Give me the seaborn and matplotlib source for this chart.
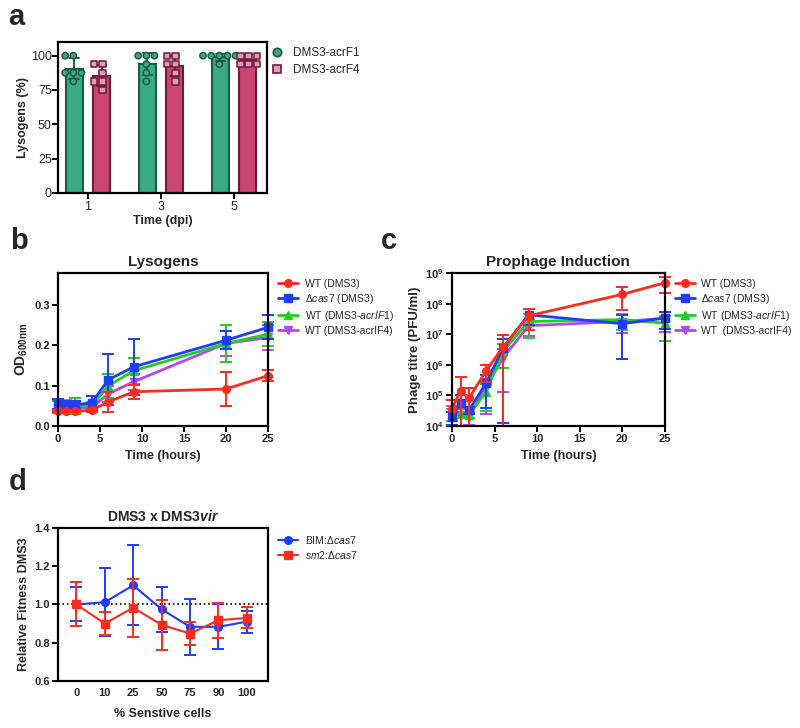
import numpy as np
import pandas as pd
import matplotlib
matplotlib.use('Agg')
import matplotlib.pyplot as plt
from matplotlib.lines import Line2D
from matplotlib.patches import Rectangle
from matplotlib.ticker import NullLocator
import seaborn as sns

# ---- a: lysogens (%) per replicate, days 1 / 3 / 5 ----
days = ['1', '3', '5']
acrF1_day1 = [100, 100, 87.5, 87.5, 87.5, 81.25]
acrF1_day3 = [100, 100, 100, 93.75, 87.5, 81.25]
acrF1_day5 = [100, 100, 100, 100, 100, 93.75]
acrF4_day1 = [93.75, 93.75, 87.5, 81.25, 81.25, 75]
acrF4_day3 = [100, 100, 93.75, 93.75, 87.5, 81.25]
acrF4_day5 = [100, 100, 100, 93.75, 93.75, 93.75]

# ---- b: OD600 of lysogens ----
time_h = [0, 1, 2, 4, 6, 9, 20, 25]
od_wt = [0.038, 0.037, 0.037, 0.039, 0.060, 0.085, 0.092, 0.125]
od_wt_sd = [0.003, 0.003, 0.003, 0.003, 0.025, 0.017, 0.042, 0.014]
od_cas7 = [0.055, 0.053, 0.053, 0.057, 0.115, 0.147, 0.213, 0.245]
od_cas7_sd = [0.012, 0.010, 0.010, 0.018, 0.063, 0.070, 0.022, 0.030]
od_f1 = [0.050, 0.050, 0.050, 0.050, 0.100, 0.137, 0.205, 0.228]
od_f1_sd = [0.012, 0.015, 0.020, 0.010, 0.030, 0.033, 0.047, 0.030]
od_f4 = [0.047, 0.047, 0.046, 0.046, 0.080, 0.110, 0.205, 0.220]
od_f4_sd = [0.015, 0.012, 0.010, 0.008, 0.020, 0.020, 0.030, 0.030]

# ---- c: prophage induction, PFU/ml ----
pfu_wt = [3.7e4, 1.4e5, 8.0e4, 6.4e5, 3.8e6, 4.0e7, 2.0e8, 4.8e8]
pfu_wt_sd = [3.2e4, 2.5e5, 9.0e4, 3.6e5, 5.5e6, 2.6e7, 1.4e8, 2.6e8]
pfu_cas7 = [2.0e4, 5.6e4, 3.3e4, 2.5e5, 3.6e6, 4.3e7, 2.2e7, 3.4e7]
pfu_cas7_sd = [0.9e4, 5.0e4, 0.8e4, 2.1e5, 3.587e6, 2.3e7, 2.05e7, 1.9e7]
pfu_f1 = [2.5e4, 2.5e4, 2.3e4, 1.3e5, 2.8e6, 2.6e7, 3.0e7, 2.3e7]
pfu_f1_sd = [1.0e4, 1.6e4, 0.5e4, 1.0e5, 2.0e6, 1.85e7, 1.6e7, 1.7e7]
pfu_f4 = [2.5e4, 2.3e4, 2.0e4, 1.9e5, 1.7e6, 1.9e7, 2.6e7, 3.3e7]
pfu_f4_sd = [2.0e4, 1.3e4, 0.9e4, 1.65e5, 1.57e6, 1.0e7, 1.5e7, 2.1e7]

# ---- d: relative fitness ----
pct_sens = ['0', '10', '25', '50', '75', '90', '100']
fit_bim = [1.000, 1.012, 1.100, 0.975, 0.883, 0.883, 0.910]
fit_bim_sd = [0.089, 0.178, 0.210, 0.117, 0.146, 0.118, 0.058]
fit_sm2 = [1.000, 0.900, 0.983, 0.893, 0.848, 0.917, 0.930]
fit_sm2_sd = [0.115, 0.060, 0.152, 0.130, 0.060, 0.090, 0.055]

RED, BLUE, GREEN, PURPLE = '#ff2b1c', '#1f3dff', '#22cc22', '#b447f2'
TEAL, TEAL_D = '#3aaa85', '#1b5a45'
PINK, PINK_D, PINK_L = '#c9466f', '#6e1c3b', '#e39ab4'

sns.set_style('ticks')
plt.rcParams['font.family'] = ['Liberation Sans', 'DejaVu Sans']
plt.rcParams['mathtext.fontset'] = 'custom'
plt.rcParams['mathtext.rm'] = 'Liberation Sans'
plt.rcParams['mathtext.it'] = 'Liberation Sans:italic'
plt.rcParams['mathtext.bf'] = 'Liberation Sans:bold'
plt.rcParams['mathtext.bfit'] = 'Liberation Sans:bold:italic'

fig = plt.figure(figsize=(8, 7.28), dpi=100)
ax_a = fig.add_axes([0.0725, 0.735, 0.261, 0.2074])
ax_b = fig.add_axes([0.0725, 0.4148, 0.2625, 0.2102])
ax_c = fig.add_axes([0.565, 0.4148, 0.266, 0.2102])
ax_d = fig.add_axes([0.0725, 0.0646, 0.2625, 0.2102])


def frame(ax, bold=True):
    for s in ax.spines.values():
        s.set_visible(True)
        s.set_linewidth(1.6)
        s.set_color('black')
    ax.tick_params(width=1.4, length=4, labelsize=8, color='black', pad=2)
    if bold:
        for lab in ax.get_xticklabels() + ax.get_yticklabels():
            lab.set_fontweight('bold')


def err_clip(ax, cont):
    # let caps at x=0 / x=25 spill over the spines, like the original
    rect = Rectangle((-0.05, 0), 1.1, 1, transform=ax.transAxes, visible=False)
    ax.add_patch(rect)
    for art in cont.get_children():
        art.set_clip_path(rect)


# ---------------- a ----------------
rows = []
for strain, vals in [('DMS3-acrF1', [acrF1_day1, acrF1_day3, acrF1_day5]),
                     ('DMS3-acrF4', [acrF4_day1, acrF4_day3, acrF4_day5])]:
    for d, v in zip(days, vals):
        for p in v:
            rows.append((d, strain, p))
df_a = pd.DataFrame(rows, columns=['day', 'strain', 'pct'])
hue_order = ['DMS3-acrF1', 'DMS3-acrF4']

sns.barplot(data=df_a, x='day', y='pct', hue='strain', hue_order=hue_order,
            palette=[TEAL, PINK], saturation=1, errorbar='sd', capsize=0.25, width=0.76,
            gap=0.39, linewidth=1.5, err_kws={'linewidth': 1.4}, legend=False, ax=ax_a)
for bar in ax_a.patches:
    fc = matplotlib.colors.to_hex(bar.get_facecolor())
    bar.set_edgecolor(TEAL_D if fc == TEAL else PINK_D)
for ln in ax_a.lines:
    xm = np.nanmean(np.asarray(ln.get_xdata(), dtype=float))
    if np.isfinite(xm):
        ln.set_color(TEAL_D if xm < round(xm) else PINK_D)

sns.swarmplot(data=df_a[df_a.strain == 'DMS3-acrF1'], x='day', y='pct', hue='strain',
              hue_order=hue_order, dodge=True, palette=[TEAL, PINK_L], marker='o',
              size=4.5, edgecolor=TEAL_D, linewidth=1.1, legend=False, ax=ax_a)
sns.swarmplot(data=df_a[df_a.strain == 'DMS3-acrF4'], x='day', y='pct', hue='strain',
              hue_order=hue_order, dodge=True, palette=[TEAL, PINK_L], marker='s',
              size=4.5, edgecolor=PINK_D, linewidth=1.1, legend=False, ax=ax_a)

ax_a.set_xlim(-0.41, 2.45)
ax_a.set_ylim(0, 110)
ax_a.set_yticks([0, 25, 50, 75, 100])
ax_a.set_xlabel('Time (dpi)', fontsize=9, fontweight='bold', labelpad=1)
ax_a.set_ylabel('Lysogens (%)', fontsize=9, fontweight='bold', labelpad=1)
frame(ax_a, bold=False)
ax_a.tick_params(labelsize=9)
ax_a.tick_params(axis='y', pad=0.5)
hnd = [Line2D([], [], ls='', marker='o', ms=6, mfc=TEAL, mec=TEAL_D, mew=1.2),
       Line2D([], [], ls='', marker='s', ms=6, mfc=PINK_L, mec=PINK_D, mew=1.2)]
ax_a.legend(hnd, hue_order, loc='upper left', bbox_to_anchor=(1.0, 1.0), frameon=False,
            fontsize=8.5, handlelength=1.0, handletextpad=0.8, labelspacing=0.45,
            borderaxespad=0)

# ---------------- b & c ----------------
lab_wt = 'WT (DMS3)'
lab_cas7 = r'Δ$\mathit{cas7}$ (DMS3)'
lab_f1 = r'WT (DMS3-$\mathit{acrIF1}$)'

series_b = [(od_f4, od_f4_sd, PURPLE, 'v', 'WT (DMS3-acrIF4)'),
            (od_f1, od_f1_sd, GREEN, '^', lab_f1),
            (od_cas7, od_cas7_sd, BLUE, 's', lab_cas7),
            (od_wt, od_wt_sd, RED, 'o', lab_wt)]
series_c = [(pfu_f4, pfu_f4_sd, PURPLE, 'v', 'WT  (DMS3-acrIF4)'),
            (pfu_f1, pfu_f1_sd, GREEN, '^', lab_f1),
            (pfu_cas7, pfu_cas7_sd, BLUE, 's', lab_cas7),
            (pfu_wt, pfu_wt_sd, RED, 'o', lab_wt)]

for ax, series in [(ax_b, series_b), (ax_c, series_c)]:
    for y, sd, col, mk, lab in series:
        cont = ax.errorbar(time_h, y, yerr=sd, fmt='none', ecolor=col, elinewidth=1.4,
                           capsize=4, capthick=1.4)
        err_clip(ax, cont)
        sns.lineplot(x=time_h, y=y, color=col, marker=mk, markersize=5.5, markeredgewidth=1,
                     markeredgecolor=col, linewidth=2, label=lab, clip_on=False, ax=ax)
    h, l = ax.get_legend_handles_labels()
    ax.legend(h[::-1], l[::-1], loc='upper left', bbox_to_anchor=(1.03, 0.99), frameon=False,
              fontsize=7.5, handlelength=1.9, handletextpad=0.6, labelspacing=0.3,
              borderaxespad=0)
    ax.set_xlim(0, 25)
    ax.set_xticks([0, 5, 10, 15, 20, 25])
    ax.set_xlabel('Time (hours)', fontsize=9, fontweight='bold')

ax_b.set_ylim(0, 0.38)
ax_b.set_yticks([0.0, 0.1, 0.2, 0.3])
ax_b.set_yticklabels(['0.0', '0.1', '0.2', '0.3'])
ax_b.set_ylabel(r'OD$_{\mathbf{600nm}}$', fontsize=10, fontweight='bold', labelpad=3)
ax_b.set_title('Lysogens', fontsize=11, fontweight='bold', pad=5)
frame(ax_b)

ax_c.set_yscale('log')
ax_c.set_ylim(1e4, 1e9)
ax_c.set_yticks([10.0 ** k for k in range(4, 10)])
ax_c.set_yticklabels([r'$\mathbf{10^{%d}}$' % k for k in range(4, 10)])
ax_c.yaxis.set_minor_locator(NullLocator())
ax_c.set_ylabel('Phage titre (PFU/ml)', fontsize=9.5, fontweight='bold', labelpad=3)
ax_c.set_title('Prophage Induction', fontsize=11, fontweight='bold', pad=5)
frame(ax_c)

# ---------------- d ----------------
xpos = np.arange(len(pct_sens))
ax_d.axhline(1.0, color='black', ls=':', lw=1.2, zorder=1)
for y, sd, col, mk, lab in [(fit_bim, fit_bim_sd, BLUE, 'o', r'BIM:Δ$\mathit{cas7}$'),
                            (fit_sm2, fit_sm2_sd, RED, 's', r'$\mathit{sm2}$:Δ$\mathit{cas7}$')]:
    ax_d.errorbar(xpos, y, yerr=sd, fmt='none', ecolor=col, elinewidth=1.4, capsize=4,
                  capthick=1.4)
    sns.lineplot(x=xpos, y=y, color=col, marker=mk, markersize=5.5, markeredgewidth=1,
                 markeredgecolor=col, linewidth=1.5, label=lab, ax=ax_d)
ax_d.legend(loc='upper left', bbox_to_anchor=(1.03, 0.99), frameon=False, fontsize=7.5,
            handlelength=1.9, handletextpad=0.6, labelspacing=0.3, borderaxespad=0)
ax_d.set_xlim(-0.65, 6.75)
ax_d.set_ylim(0.6, 1.4)
ax_d.set_xticks(xpos)
ax_d.set_xticklabels(pct_sens)
ax_d.set_yticks([0.6, 0.8, 1.0, 1.2, 1.4])
ax_d.set_yticklabels(['0.6', '0.8', '1.0', '1.2', '1.4'])
ax_d.set_xlabel('% Senstive cells', fontsize=9, fontweight='bold', labelpad=7)
ax_d.set_ylabel('Relative Fitness DMS3', fontsize=9, fontweight='bold', labelpad=3)
ax_d.set_title(r'DMS3 x DMS3$\mathbfit{vir}$', fontsize=10, fontweight='bold', pad=5)
frame(ax_d)
ax_d.tick_params(axis='x', length=0, pad=5)

# panel letters
for txt, x, y in [('a', 16, 17), ('b', 19, 241), ('c', 389, 241), ('d', 18, 482)]:
    fig.text(x / 800, 1 - y / 728, txt, fontsize=21, fontweight='bold', ha='center', va='center')

fig.savefig('out.png', dpi=100)
